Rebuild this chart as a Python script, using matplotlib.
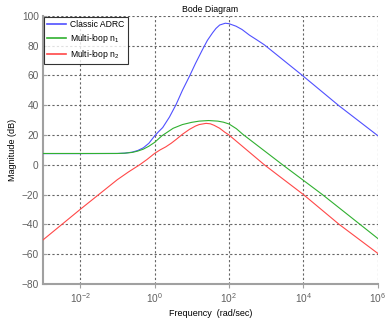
import numpy as np
import matplotlib.pyplot as plt

plt.rcParams['font.family'] = ['Liberation Sans', 'DejaVu Sans']
plt.rcParams['mathtext.fontset'] = 'custom'
plt.rcParams['mathtext.rm'] = 'Liberation Sans'
plt.rcParams['mathtext.it'] = 'Liberation Sans'

# values (frequency in rad/sec, magnitude in dB)
log_f_classic = [-3, -2, -1, -0.8, -0.6, -0.45, -0.3, -0.15, 0, 0.1, 0.22, 0.4, 0.58,
                 0.75, 0.94, 1.1, 1.29, 1.42, 1.56, 1.65, 1.75, 1.9, 2.0, 2.19,
                 2.35, 2.55, 2.75, 2.95, 3.97, 4.96, 6]
mag_classic = [7.5, 7.5, 7.6, 7.8, 8.5, 9.6, 11.4, 14.5, 19.3, 22.0, 25.0, 32.0, 40.5,
               50.0, 59.5, 68.0, 77.4, 83.5, 88.6, 91.5, 93.8, 95.0, 94.7, 93.0,
               90.8, 87.0, 83.8, 80.5, 60.0, 39.5, 19.5]

log_f_n1 = [-3, -2, -1, -0.8, -0.6, -0.45, -0.3, -0.15, 0, 0.2, 0.5, 0.75, 1.0, 1.2,
            1.45, 1.7, 1.85, 2.0, 2.2, 2.37, 3.44, 4.51, 6]
mag_n1 = [7.6, 7.6, 7.6, 7.8, 8.3, 9.2, 10.5, 12.5, 15.0, 19.5, 24.5, 27.0, 28.5, 29.3,
          29.7, 29.3, 28.6, 27.4, 24.2, 20.5, 0.0, -20.0, -49.5]

log_f_n2 = [-3, -2, -1, -0.7, -0.4, -0.2, 0, 0.15, 0.3, 0.45, 0.58, 0.75, 0.94, 1.1, 1.2,
            1.385, 1.5, 1.6, 1.75, 1.88, 2.0, 2.95, 4.0, 4.96, 6]
mag_n2 = [-50.5, -30.0, -10.0, -4.8, 0.0, 3.6, 7.6, 10.0, 12.0, 14.5, 17.0, 20.5, 23.8,
          26.0, 27.0, 27.8, 27.5, 26.5, 24.5, 22.0, 20.0, 0.0, -20.0, -40.0, -59.5]

labels = ['Classic ADRC', 'Multi-loop n$_1$', 'Multi-loop n$_2$']
colors = ['#5050ff', '#30b030', '#ff4848']

fig = plt.figure(figsize=(3.86, 3.22), dpi=100)
ax = fig.add_axes([0.111, 0.118, 0.868, 0.833])

series = [(log_f_classic, mag_classic), (log_f_n1, mag_n1), (log_f_n2, mag_n2)]
for (lf, mag), lab, col, z in zip(series, labels, colors, [3, 4, 5]):
    ax.plot(10.0 ** np.array(lf), mag, color=col, lw=0.8, label=lab, zorder=z)

ax.set_xscale('log')
ax.set_xlim(1e-3, 1e6)
ax.set_ylim(-80, 100)
ax.set_xticks([1e-2, 1e0, 1e2, 1e4, 1e6])
ax.set_xticklabels(['$10^{-2}$', '$10^{0}$', '$10^{2}$', '$10^{4}$', '$10^{6}$'])
ax.xaxis.set_minor_locator(plt.NullLocator())
ax.set_yticks(np.arange(-80, 101, 20))

ax.grid(True, color='#666666', linestyle=(0, (2, 2)), linewidth=0.8)
for s in ['top', 'right']:
    ax.spines[s].set_visible(False)
for s in ['left', 'bottom']:
    ax.spines[s].set_color('#a0a0a0')
    ax.spines[s].set_linewidth(1.5)

ax.tick_params(axis='both', labelsize=7.3, colors='#a0a0a0', labelcolor='#606060', length=3)
ax.tick_params(axis='x', direction='out', pad=2)
ax.tick_params(axis='y', direction='in', pad=3)

ax.set_title('Bode Diagram', fontsize=6.3, pad=3)
ax.set_xlabel('Frequency  (rad/sec)', fontsize=6.5, labelpad=3)
ax.set_ylabel('Magnitude (dB)', fontsize=6.5, labelpad=3)

leg = ax.legend(loc='upper left', fontsize=6.2, frameon=True, fancybox=False,
                borderaxespad=0.15, handlelength=2.2, handletextpad=0.5,
                labelspacing=0.35, borderpad=0.35)
leg.get_frame().set_edgecolor('black')
leg.get_frame().set_linewidth(0.8)
for line in leg.get_lines():
    line.set_linewidth(1.2)

fig.savefig('out.png', dpi=100)
